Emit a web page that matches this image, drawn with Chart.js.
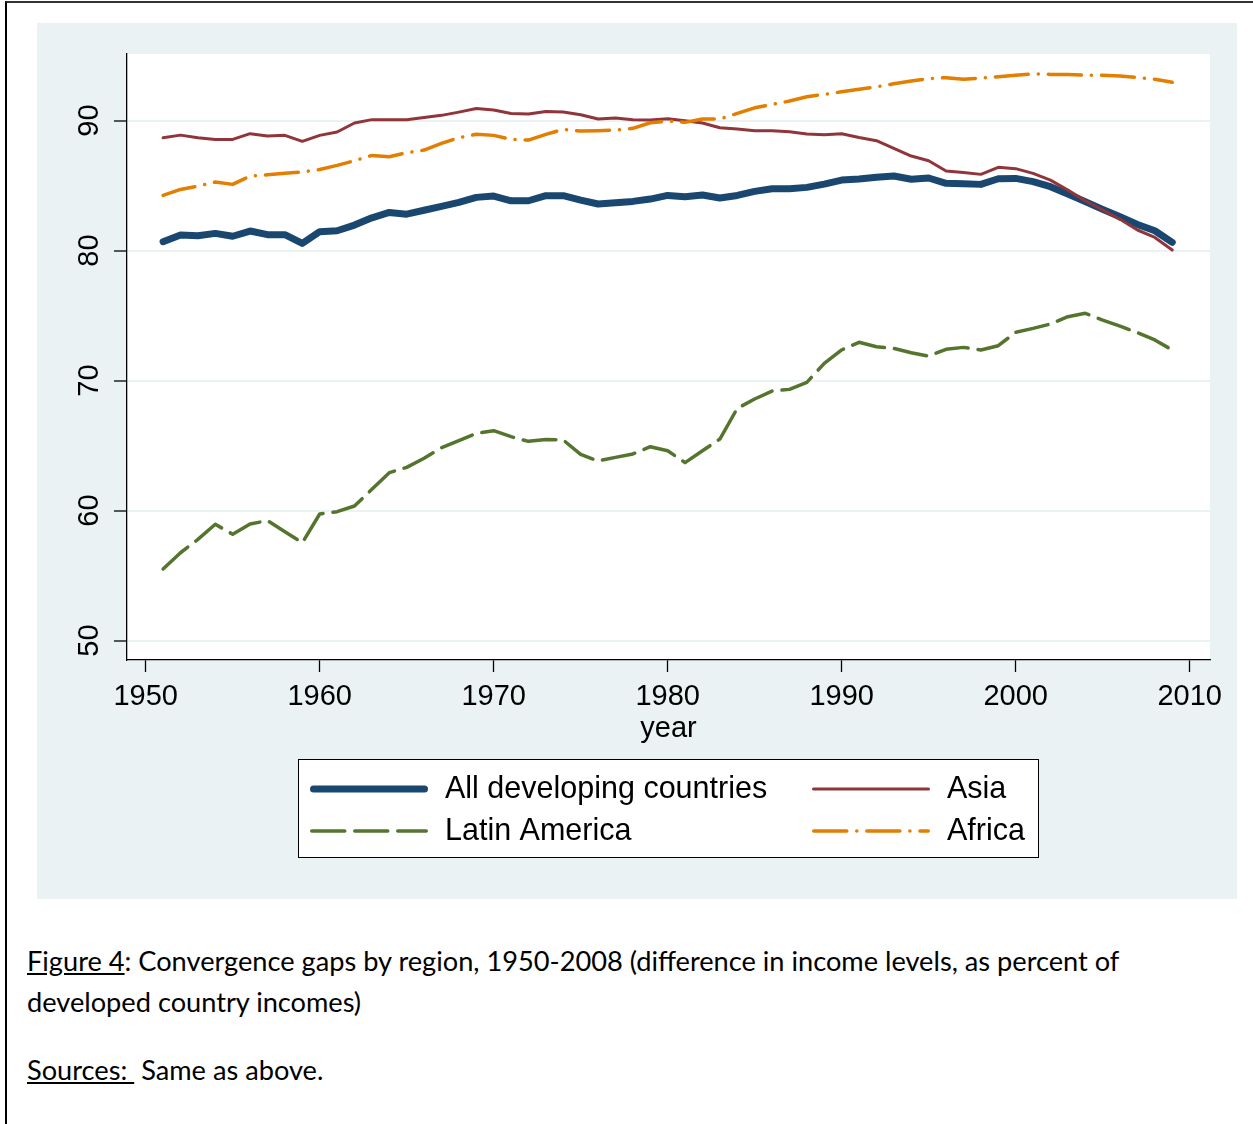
<!DOCTYPE html>
<html>
<head>
<meta charset="utf-8">
<script src="https://cdn.jsdelivr.net/npm/chart.js@4.4.0/dist/chart.umd.min.js"></script>
<style>
  body { margin: 0; background: #fff; width: 1253px; height: 1124px; position: relative; overflow: hidden; }
  #frame { position: absolute; left: 5px; top: 1px; width: 1300px; height: 1200px; border-left: 2px solid #000; border-top: 2px solid #333; }
  #region { position: absolute; left: 37px; top: 23px; width: 1200px; height: 876px; background: #eaf2f3; }
  .cap { position: absolute; left: 27px; margin: 0; font-family: Lato, "Open Sans", sans-serif; font-size: 27.2px; line-height: 41px; color: #000; white-space: nowrap; }
</style>
</head>
<body>
<div id="frame"></div>
<div id="region"><canvas id="chart" width="1200" height="876"></canvas></div>
<p class="cap" style="top:940px"><u>Figure 4</u>: Convergence gaps by region, 1950-2008 (difference in income levels, as percent of<br>developed country incomes)</p>
<p class="cap" style="top:1049px"><u>Sources:&nbsp;</u> Same as above.</p>

<script>
const years = [1951, 1952, 1953, 1954, 1955, 1956, 1957, 1958, 1959, 1960,
  1961, 1962, 1963, 1964, 1965, 1966, 1967, 1968, 1969, 1970,
  1971, 1972, 1973, 1974, 1975, 1976, 1977, 1978, 1979, 1980,
  1981, 1982, 1983, 1984, 1985, 1986, 1987, 1988, 1989, 1990,
  1991, 1992, 1993, 1994, 1995, 1996, 1997, 1998, 1999, 2000,
  2001, 2002, 2003, 2004, 2005, 2006, 2007, 2008, 2009];

const allDeveloping = [80.68, 81.19, 81.14, 81.32, 81.10, 81.50, 81.22, 81.22, 80.55, 81.45,
  81.52, 81.96, 82.52, 82.93, 82.80, 83.10, 83.40, 83.70, 84.09, 84.19,
  83.83, 83.83, 84.22, 84.22, 83.88, 83.58, 83.68, 83.78, 83.96, 84.24,
  84.14, 84.27, 84.04, 84.24, 84.55, 84.75, 84.75, 84.86, 85.11, 85.42,
  85.50, 85.63, 85.73, 85.48, 85.58, 85.17, 85.14, 85.09, 85.52, 85.55,
  85.30, 84.91, 84.35, 83.76, 83.17, 82.60, 82.01, 81.52, 80.63];

const asia = [88.68, 88.88, 88.68, 88.55, 88.55, 88.99, 88.81, 88.86, 88.40, 88.86,
  89.12, 89.81, 90.07, 90.07, 90.07, 90.24, 90.40, 90.65, 90.93, 90.81,
  90.55, 90.50, 90.70, 90.65, 90.45, 90.12, 90.19, 90.07, 90.04, 90.14,
  89.99, 89.81, 89.45, 89.35, 89.22, 89.22, 89.14, 88.96, 88.91, 88.99,
  88.70, 88.45, 87.86, 87.27, 86.91, 86.12, 86.01, 85.86, 86.40, 86.30,
  85.94, 85.42, 84.65, 83.83, 83.12, 82.40, 81.58, 81.01, 80.04];

const latinAmerica = [55.50, 56.75, 57.78, 58.94, 58.17, 58.96, 59.22, 58.37, 57.52, 59.73,
  59.91, 60.35, 61.63, 62.91, 63.32, 64.02, 64.83, 65.37, 65.94, 66.14,
  65.68, 65.32, 65.47, 65.42, 64.32, 63.81, 64.09, 64.35, 64.91, 64.60,
  63.68, 64.60, 65.50, 67.86, 68.58, 69.19, 69.32, 69.86, 71.32, 72.35,
  72.94, 72.60, 72.47, 72.14, 71.88, 72.40, 72.55, 72.35, 72.68, 73.71,
  74.01, 74.35, 74.91, 75.17, 74.65, 74.19, 73.68, 73.12, 72.35];

const africa = [84.24, 84.70, 84.96, 85.27, 85.09, 85.73, 85.83, 85.94, 86.04, 86.24,
  86.55, 86.91, 87.32, 87.22, 87.53, 87.73, 88.24, 88.68, 88.94, 88.86,
  88.55, 88.50, 88.94, 89.32, 89.19, 89.22, 89.27, 89.40, 89.83, 89.96,
  89.86, 90.12, 90.12, 90.55, 90.98, 91.24, 91.50, 91.83, 92.01, 92.22,
  92.40, 92.60, 92.83, 93.04, 93.22, 93.30, 93.17, 93.27, 93.37, 93.48,
  93.60, 93.55, 93.55, 93.48, 93.48, 93.42, 93.32, 93.17, 92.94];

const xTicks = [1950, 1960, 1970, 1980, 1990, 2000, 2010];
const yTicks = [50, 60, 70, 80, 90];

const FONT = "'Liberation Sans', Arial, sans-serif";

function pts(vals) {
  return vals.map((v, i) => ({ x: years[i], y: v }));
}

// white plot region inside the stata-blue graph region
const plotBg = {
  id: "plotBg",
  beforeDraw(chart) {
    const a = chart.chartArea;
    const ctx = chart.ctx;
    ctx.save();
    ctx.fillStyle = "#fff";
    ctx.fillRect(a.left, a.top, a.right - a.left, a.bottom - a.top);
    ctx.restore();
  },
};

// two-column boxed legend, like stata's
const stataLegend = {
  id: "stataLegend",
  afterDraw(chart) {
    const ctx = chart.ctx;
    const box = { x: 261.5, y: 736.5, w: 740, h: 98 };
    ctx.save();
    ctx.fillStyle = "#fff";
    ctx.fillRect(box.x, box.y, box.w, box.h);
    ctx.strokeStyle = "#000";
    ctx.lineWidth = 1;
    ctx.strokeRect(box.x, box.y, box.w, box.h);

    const cols = [273, 775];
    const rows = [766, 808];
    const sampleW = 118;
    chart.data.datasets.forEach((ds, i) => {
      const cx = cols[i % 2];
      const cy = rows[Math.floor(i / 2)];
      ctx.beginPath();
      ctx.setLineDash(ds.borderDash || []);
      ctx.lineWidth = ds.borderWidth;
      ctx.lineCap = ds.borderCapStyle || "butt";
      ctx.strokeStyle = ds.borderColor;
      ctx.moveTo(cx + ds.borderWidth / 2, cy);
      ctx.lineTo(cx + sampleW - ds.borderWidth / 2, cy);
      ctx.stroke();
      ctx.setLineDash([]);
      ctx.fillStyle = "#000";
      ctx.font = "30.5px " + FONT;
      ctx.textBaseline = "middle";
      ctx.textAlign = "left";
      ctx.fillText(ds.label, cx + sampleW + 17, cy + 1);
    });
    ctx.restore();
  },
};

const chart = new Chart(document.getElementById("chart"), {
  type: "line",
  data: {
    datasets: [
      {
        label: "All developing countries",
        data: pts(allDeveloping),
        borderColor: "#1a476f",
        borderWidth: 7,
        borderCapStyle: "round",
        borderJoinStyle: "round",
        order: 4,
      },
      {
        label: "Asia",
        data: pts(asia),
        borderColor: "#90353b",
        borderWidth: 3,
        borderCapStyle: "round",
        borderJoinStyle: "round",
        order: 3,
      },
      {
        label: "Latin America",
        data: pts(latinAmerica),
        borderColor: "#55752f",
        borderWidth: 3.5,
        borderDash: [33, 10],
        borderCapStyle: "round",
        borderJoinStyle: "round",
        order: 2,
      },
      {
        label: "Africa",
        data: pts(africa),
        borderColor: "#e37e00",
        borderWidth: 3.5,
        borderDash: [33, 10, 0.1, 10],
        borderCapStyle: "round",
        borderJoinStyle: "round",
        order: 1,
      },
    ],
  },
  options: {
    responsive: false,
    animation: false,
    devicePixelRatio: 1,
    layout: { padding: { left: 30, right: 27, top: 31, bottom: 139 } },
    elements: { point: { radius: 0 }, line: { tension: 0 } },
    plugins: { legend: { display: false }, tooltip: { enabled: false } },
    scales: {
      x: {
        type: "linear",
        min: 1948.925,
        max: 2011.17,
        afterBuildTicks: (s) => { s.ticks = xTicks.map((v) => ({ value: v })); },
        afterFit: (s) => { s.height = 100; },
        ticks: {
          color: "#000",
          font: { family: FONT, size: 29 },
          maxRotation: 0,
          padding: 8,
          callback: (v) => String(v),
        },
        grid: { drawOnChartArea: false, tickLength: 12, tickColor: "#000", tickWidth: 1.3 },
        border: { color: "#000", width: 1.3 },
        title: {
          display: true,
          text: "year",
          color: "#000",
          font: { family: FONT, size: 29 },
          padding: { top: 0, bottom: 14 },
        },
      },
      y: {
        min: 48.5,
        max: 95.12,
        afterBuildTicks: (s) => { s.ticks = yTicks.map((v) => ({ value: v })); },
        afterFit: (s) => { s.width = 60; },
        ticks: {
          color: "#000",
          font: { family: FONT, size: 29 },
          minRotation: 90,
          maxRotation: 90,
          crossAlign: "center",
          padding: 8,
          callback: (v) => String(v),
        },
        grid: { color: "#eaf2f3", lineWidth: 2, tickLength: 13, tickColor: "#000", tickWidth: 1.3 },
        border: { color: "#000", width: 1.3 },
      },
    },
  },
  plugins: [plotBg, stataLegend],
});
</script>
</body>
</html>
